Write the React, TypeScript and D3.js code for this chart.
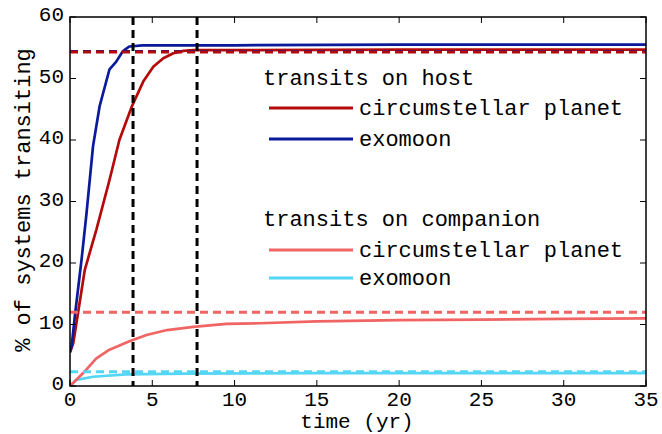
import React from "react";
import * as d3 from "d3";

// ---- data ----
const hostPlanet: [number, number][] = [
  [0, 5.5], [0.2, 7], [0.9, 18.9], [1.6, 25.4], [2.4, 33.5], [3.0, 40], [3.75, 45.4],
  [4.45, 49.5], [5.06, 51.9], [5.67, 53.3], [6.28, 54.1], [6.9, 54.5], [7.5, 54.6],
  [10, 54.6], [20, 54.7], [35, 54.7],
];
const hostMoon: [number, number][] = [
  [0, 5.5], [0.1, 6.5], [0.3, 11.5], [0.7, 20.5], [1.0, 28], [1.4, 39], [1.8, 45.5],
  [2.1, 48.5], [2.4, 51.5], [2.8, 52.7], [3.2, 54.4], [3.6, 55.2], [4.4, 55.4], [10, 55.4],
  [20, 55.5], [35, 55.5],
];
const compPlanet: [number, number][] = [
  [0, 0], [0.8, 2.1], [1.6, 4.5], [2.4, 5.9], [3.65, 7.3], [4.65, 8.3], [5.9, 9.1],
  [7.5, 9.6], [9.5, 10.1], [11.5, 10.2], [15, 10.5], [20, 10.7], [25, 10.8],
  [30, 10.9], [35, 11.0],
];
const compMoon: [number, number][] = [
  [0, 0], [0.4, 1.0], [1.4, 1.5], [3.4, 1.9], [7, 2.0], [15, 2.1], [35, 2.1],
];
const expectedLevels = [
  { v: 54.4, color: "#0a1a9a" },
  { v: 54.3, color: "#b50a0a" },
  { v: 12.0, color: "#f06464" },
  { v: 2.3, color: "#55d6f5" },
];
const verticalMarks = [3.83, 7.72];
const xTicks = [0, 5, 10, 15, 20, 25, 30, 35];
const yTicks = [0, 10, 20, 30, 40, 50, 60];

const FONT = "'Liberation Mono', 'DejaVu Sans Mono', monospace";

export default function App() {
  const left = 70, right = 646, top = 17, bottom = 386;
  const x = d3.scaleLinear().domain([0, 35]).range([left, right]);
  const y = d3.scaleLinear().domain([0, 60]).range([bottom, top]);
  const line = d3.line<[number, number]>().x((d) => x(d[0])).y((d) => y(d[1]));

  const series = [
    { data: compMoon, color: "#55d6f5" },
    { data: compPlanet, color: "#f06464" },
    { data: hostPlanet, color: "#b50a0a" },
    { data: hostMoon, color: "#0a1a9a" },
  ];

  const legend = [
    { header: "transits on host", hy: 85, items: [
      { label: "circumstellar planet", color: "#b50a0a", ly: 108, ty: 115 },
      { label: "exomoon", color: "#0a1a9a", ly: 139, ty: 146 },
    ] },
    { header: "transits on companion", hy: 226, items: [
      { label: "circumstellar planet", color: "#f06464", ly: 250, ty: 257 },
      { label: "exomoon", color: "#55d6f5", ly: 278, ty: 285 },
    ] },
  ];

  return (
    <svg width={662} height={434} style={{ position: "absolute", left: 0, top: 0, background: "#fff" }}
      fontFamily={FONT}>
      <rect x={0} y={0} width={662} height={434} fill="#fff" />
      <defs>
        <clipPath id="plot">
          <rect x={left} y={top} width={right - left} height={bottom - top} />
        </clipPath>
      </defs>
      <g clipPath="url(#plot)">
        {series.map((s, i) => (
          <path key={i} d={line(s.data) || ""} fill="none" stroke={s.color} strokeWidth={2.7}
            strokeLinejoin="round" />
        ))}
        {expectedLevels.map((l, i) => (
          <line key={i} x1={left} x2={right} y1={y(l.v)} y2={y(l.v)} stroke={l.color}
            strokeWidth={3} strokeDasharray="8,5" />
        ))}
        {verticalMarks.map((t, i) => (
          <line key={i} x1={x(t)} x2={x(t)} y1={top} y2={bottom} stroke="#000"
            strokeWidth={3} strokeDasharray="8,5" />
        ))}
      </g>
      {/* ticks */}
      {xTicks.map((t) => (
        <g key={"x" + t}>
          <line x1={x(t)} x2={x(t)} y1={bottom} y2={bottom - 6} stroke="#000" strokeWidth={1} />
          <line x1={x(t)} x2={x(t)} y1={top} y2={top + 6} stroke="#000" strokeWidth={1} />
          <text x={x(t)} y={406} textAnchor="middle" fontSize={21} fill="#000">{t}</text>
        </g>
      ))}
      {yTicks.map((t) => (
        <g key={"y" + t}>
          <line x1={left} x2={left + 6} y1={y(t)} y2={y(t)} stroke="#000" strokeWidth={1} />
          <line x1={right} x2={right - 6} y1={y(t)} y2={y(t)} stroke="#000" strokeWidth={1} />
          <text x={64} y={y(t) + 4} textAnchor="end" fontSize={21} fill="#000">{t}</text>
        </g>
      ))}
      <rect x={left} y={top} width={right - left} height={bottom - top} fill="none" stroke="#000" strokeWidth={1.5} />
      {/* legend */}
      {legend.map((g, gi) => (
        <g key={gi}>
          <text x={263} y={g.hy} fontSize={22} fill="#000">{g.header}</text>
          {g.items.map((it, ii) => (
            <g key={ii}>
              <line x1={269} x2={353} y1={it.ly} y2={it.ly} stroke={it.color} strokeWidth={3} />
              <text x={359} y={it.ty} fontSize={22} fill="#000">{it.label}</text>
            </g>
          ))}
        </g>
      ))}
      <text x={357} y={428} textAnchor="middle" fontSize={21} fill="#000">time (yr)</text>
      <text transform={`translate(30, 200) rotate(-90)`} textAnchor="middle" fontSize={22} fill="#000">
        % of systems transiting
      </text>
    </svg>
  );
}
